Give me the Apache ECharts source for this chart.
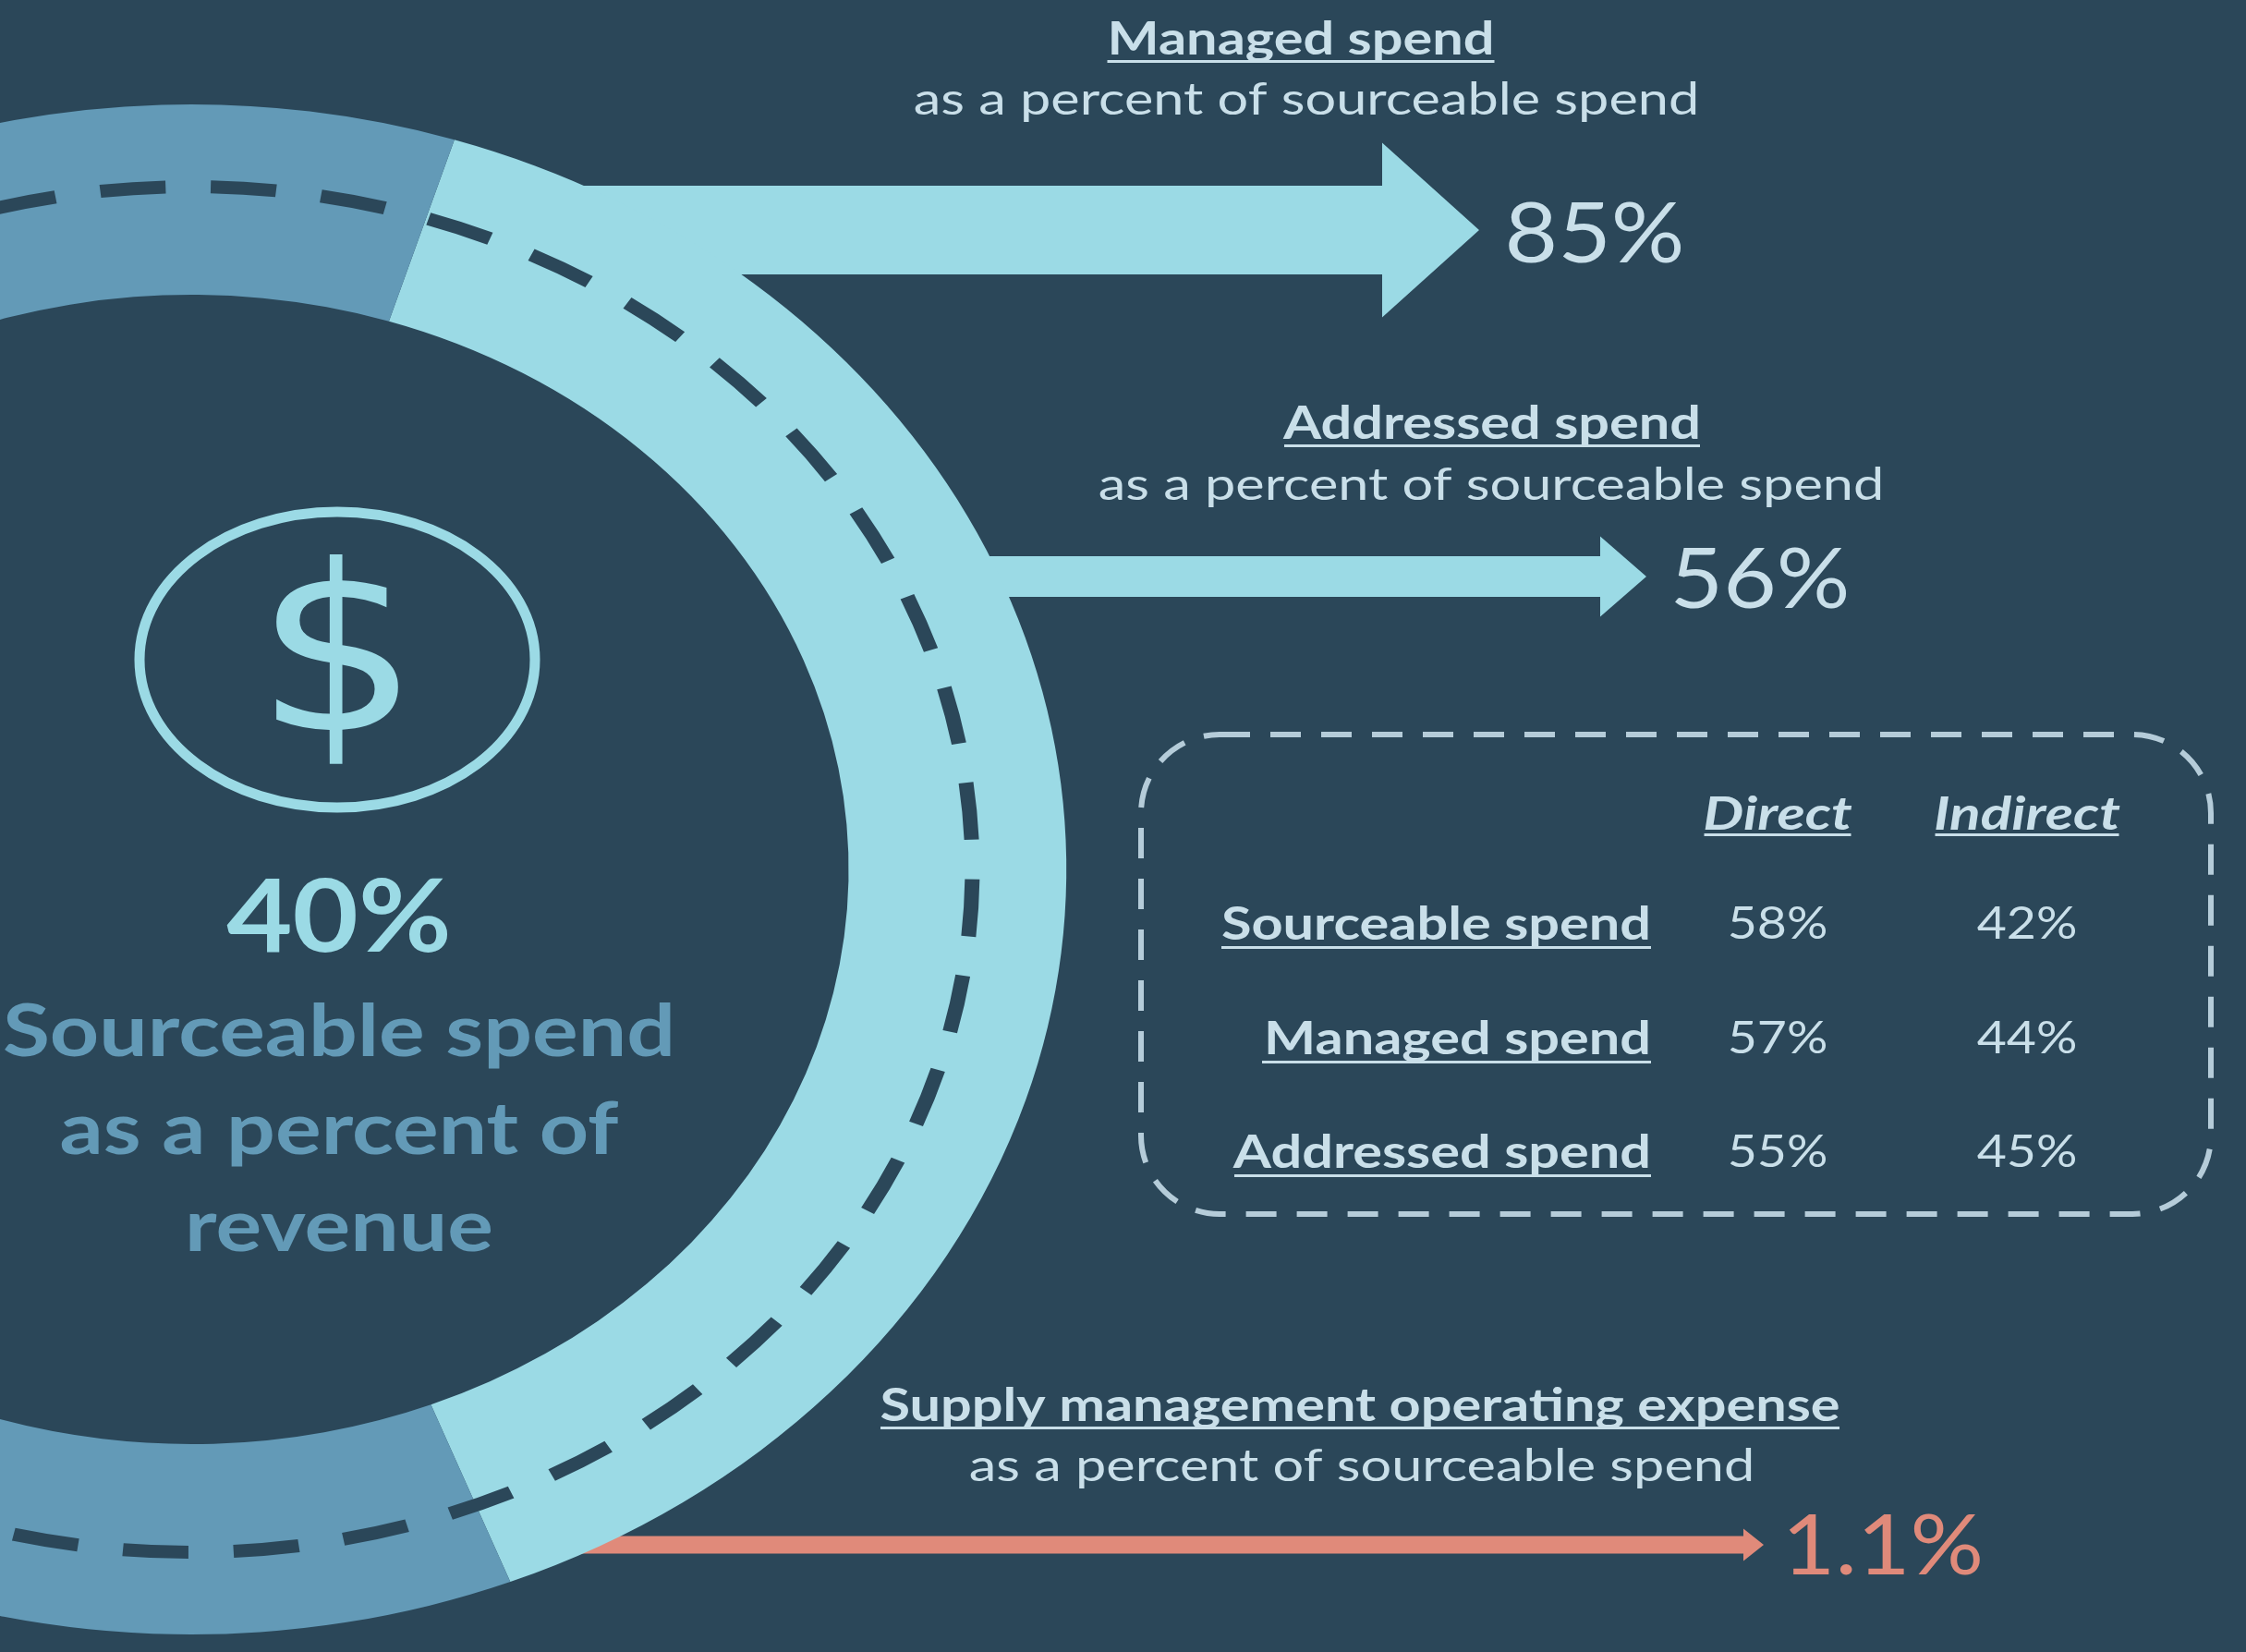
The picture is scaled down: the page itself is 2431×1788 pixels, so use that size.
<!DOCTYPE html>
<html>
<head>
<meta charset="utf-8">
<title>Sourceable spend</title>
<style>
  html, body { margin: 0; padding: 0; background: #2b4759; }
  #main { width: 2431px; height: 1788px; }
</style>
<script src="https://cdn.jsdelivr.net/npm/echarts@6/dist/echarts.min.js"></script>
</head>
<body>
<div id="main"></div>
<script>
// values
var sourceableValue = 40;
var centerLines = ['Sourceable spend', 'as a percent of', 'revenue'];
var ringShares = [39.2, 60.8];   // drawn arc: lit part of the ring, rest of the ring
var arrowNames = ['Managed spend', 'Addressed spend', 'Supply management operating expense'];
var arrowSubtitle = 'as a percent of sourceable spend';
var arrowValues = [85, 56, 1.1];
var tableColumns = ['Direct', 'Indirect'];
var tableRows = ['Sourceable spend', 'Managed spend', 'Addressed spend'];
var directValues = [58, 57, 55];
var indirectValues = [42, 44, 45];

var BG = '#2b4759', LIGHT = '#9bdae5', MID = '#639ab7', SALMON = '#e08a7a', TEXT = '#c9dfe9', DASH = '#b5ccd9';
var FONT = 'Lato, "Noto Sans", sans-serif';
var STRETCH = 1.144;   // the whole picture is a bit wider than tall

// where things sit on the page
var RING = { cx: 207, cy: 941, r: 828, r0: 622, dashR: 739, startDeg: -72.5 };
var ARROWS = [
    { x0: 560, x1: 1496, tip: 1601, y: 249, shaft: 96, head: 189, color: LIGHT, lx: 1726, ly: 251, nameX: 1408, nameY: 40, nameW: 419, subX: 1414, subY: 105 },
    { x0: 1000, x1: 1732, tip: 1782, y: 624, shaft: 44, head: 87, color: LIGHT, lx: 1905, ly: 625, nameX: 1615, nameY: 456, nameW: 450, subX: 1614, subY: 522 },
    { x0: 560, x1: 1887, tip: 1909, y: 1672, shaft: 19, head: 35, color: SALMON, lx: 2038, ly: 1671, nameX: 1472, nameY: 1519, nameW: 1038, subX: 1474, subY: 1584 }
];
var COLS = [{ x: 1924, w: 159 }, { x: 2194, w: 199 }];
var ROW_Y = [998, 1122, 1245];
var ROW_W = [465, 421, 451];
var ROW_RIGHT = 1787;

function textEl(text, x, y, size, color, weight, stretch, align, italic, family) {
    return {
        type: 'text', x: x, y: y + 3, scaleX: stretch || STRETCH, z: 10, silent: true,
        style: {
            text: text, x: 0, y: 0, fill: color,
            font: (italic ? 'italic ' : '') + (weight || 400) + ' ' + size + 'px ' + (family || FONT),
            align: align || 'center', verticalAlign: 'middle',
            textAlign: align || 'center', textVerticalAlign: 'middle'
        }
    };
}

function underline(x, y, w, h) {
    return { type: 'rect', z: 10, silent: true, shape: { x: x, y: y, width: w, height: h || 3 }, style: { fill: TEXT } };
}

var graphics = [];

// dashed road line over the ring, seam hidden off page on the left
graphics.push({
    type: 'group', x: RING.cx, y: RING.cy, scaleX: STRETCH, z: 10, silent: true,
    children: [{
        type: 'arc', z: 10,
        shape: { cx: 0, cy: 0, r: RING.dashR, startAngle: Math.PI, endAngle: Math.PI * 3, clockwise: true },
        style: { fill: 'none', stroke: BG, lineWidth: 14, lineDash: [62, 42.8], lineDashOffset: 78.4 }
    }]
});

// center block
graphics.push({
    type: 'ellipse', z: 10, silent: true,
    shape: { cx: 365, cy: 714, rx: 214, ry: 160 },
    style: { fill: 'none', stroke: LIGHT, lineWidth: 11 }
});
graphics.push(textEl('$', 365, 722, 250, LIGHT, 400, 1.12, 'center', false, '"DejaVu Sans"'));
graphics.push(textEl(sourceableValue + '%', 367, 992, 110, LIGHT, 700, 1.118));
centerLines.forEach(function (line, i) {
    graphics.push(textEl(line, 367, 1115 + i * 105.5, 79, MID, 700, 1.178));
});

// arrow captions and values
arrowNames.forEach(function (name, i) {
    var a = ARROWS[i];
    graphics.push(textEl(name, a.nameX, a.nameY, 49, TEXT, 700, 1.213));
    graphics.push(underline(a.nameX - a.nameW / 2, a.nameY + 25, a.nameW));
    graphics.push(textEl(arrowSubtitle, a.subX, a.subY, 49, TEXT, 400, 1.213));
    graphics.push(textEl(arrowValues[i] + '%', a.lx, a.ly, 92, i === 2 ? SALMON : TEXT, 400, 1.08));
});

// table box
graphics.push({
    type: 'rect', z: 10, silent: true,
    shape: { x: 1235, y: 795, width: 1158, height: 519, r: 85 },
    style: { fill: 'none', stroke: DASH, lineWidth: 6, lineDash: [33, 22] }
});
tableColumns.forEach(function (name, i) {
    graphics.push(textEl(name, COLS[i].x, 879, 49, TEXT, 700, 1.27, 'center', true));
    graphics.push(underline(COLS[i].x - COLS[i].w / 2, 902, COLS[i].w));
});
tableRows.forEach(function (name, i) {
    graphics.push(textEl(name, ROW_RIGHT, ROW_Y[i], 49, TEXT, 700, 1.213, 'right'));
    graphics.push(underline(ROW_RIGHT - ROW_W[i], ROW_Y[i] + 26, ROW_W[i]));
    graphics.push(textEl(directValues[i] + '%', COLS[0].x, ROW_Y[i], 48, TEXT, 400, 1.155));
    graphics.push(textEl(indirectValues[i] + '%', COLS[1].x, ROW_Y[i], 48, TEXT, 400, 1.155));
});

var myChart = echarts.init(document.getElementById('main'));
myChart.setOption({
    backgroundColor: BG,
    animation: false,
    series: [{
        // arrows run out from under the ring
        type: 'custom',
        coordinateSystem: 'none',
        silent: true,
        z: 1,
        data: arrowValues,
        renderItem: function (params) {
            var a = ARROWS[params.dataIndex];
            var s = a.shaft / 2, h = a.head / 2;
            return {
                type: 'polygon',
                shape: {
                    points: [
                        [a.x0, a.y - s], [a.x1, a.y - s], [a.x1, a.y - h], [a.tip, a.y],
                        [a.x1, a.y + h], [a.x1, a.y + s], [a.x0, a.y + s]
                    ]
                },
                style: { fill: a.color }
            };
        }
    }, {
        // ring, one sector per share, stretched to the picture's ellipse
        type: 'custom',
        coordinateSystem: 'none',
        silent: true,
        z: 2,
        data: ringShares,
        renderItem: function (params, api) {
            var before = 0;
            for (var i = 0; i < params.dataIndex; i++) before += ringShares[i];
            var toRad = Math.PI / 180;
            var start = RING.startDeg + before * 3.6;
            var end = start + api.value(0) * 3.6;
            return {
                type: 'group', x: RING.cx, y: RING.cy, scaleX: STRETCH,
                children: [{
                    type: 'sector',
                    shape: { cx: 0, cy: 0, r: RING.r, r0: RING.r0, startAngle: start * toRad, endAngle: end * toRad, clockwise: true },
                    style: { fill: params.dataIndex === 0 ? LIGHT : MID }
                }]
            };
        }
    }],
    graphic: { elements: graphics }
});
</script>
</body>
</html>
